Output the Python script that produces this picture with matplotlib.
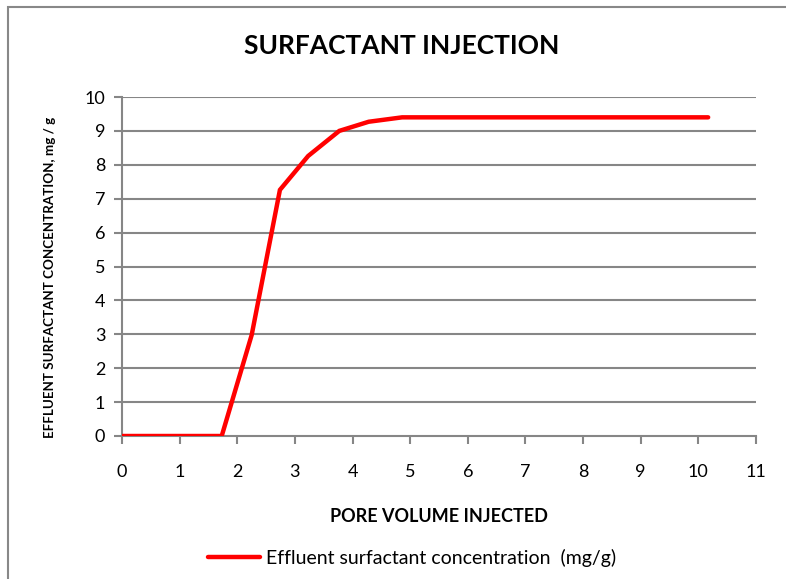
import matplotlib.pyplot as plt
from matplotlib.patches import Rectangle

plt.rcParams['font.family'] = ['Lato', 'DejaVu Sans']

pore_volume = [0, 1.73, 2.25, 2.74, 3.23, 3.77, 4.28, 4.86, 10.17]
concentration = [0, 0, 2.98, 7.26, 8.26, 9.0, 9.27, 9.40, 9.40]

x_ticks = list(range(0, 12))
y_ticks = list(range(0, 11))

W, H = 786, 579
fig = plt.figure(figsize=(W / 100, H / 100), dpi=100)
ax = fig.add_axes([122 / W, 1 - 436 / H, (756 - 122) / W, (436 - 97) / H])

grid_col = '#868686'
for y in y_ticks[1:]:
    ax.axhline(y, color=grid_col, lw=1.5, zorder=1)

ax.plot(pore_volume, concentration, color='#ff0000', lw=3.2,
        solid_capstyle='round', solid_joinstyle='miter', zorder=3,
        label='Effluent surfactant concentration  (mg/g)')

ax.set_xlim(0, 11)
ax.set_ylim(0, 10)
ax.set_xticks(x_ticks)
ax.set_yticks(y_ticks)
ax.tick_params(axis='both', colors=grid_col, labelcolor='black', labelsize=13,
               width=1.5, length=6, direction='out')
ax.tick_params(axis='x', pad=14)
ax.tick_params(axis='y', pad=6)

for side in ['top', 'right']:
    ax.spines[side].set_visible(False)
for side in ['left', 'bottom']:
    ax.spines[side].set_color(grid_col)
    ax.spines[side].set_linewidth(1.5)

fig.text(402 / W, 1 - 46 / H, 'SURFACTANT INJECTION', fontsize=19,
         fontweight='bold', ha='center', va='center')
fig.text(439 / W, 1 - 517 / H, 'PORE VOLUME INJECTED', fontsize=13,
         fontweight='bold', ha='center', va='center')
fig.text(50 / W, 1 - 277 / H, 'EFFLUENT SURFACTANT CONCENTRATION, mg / g',
         fontsize=9.6, fontweight='bold', rotation=90, ha='center', va='center')

ax.legend(loc='center left', bbox_to_anchor=(190 / W, 1 - 558 / H),
          bbox_transform=fig.transFigure, frameon=False,
          fontsize=14, handlelength=2.7, handletextpad=0.3)

fig.patches.append(Rectangle((8 / W, -0.01), 790 / W, 1 - 7 / H + 0.01,
                             transform=fig.transFigure, fill=False,
                             edgecolor='#888888', lw=1.5))

fig.savefig('out.png', dpi=100)
